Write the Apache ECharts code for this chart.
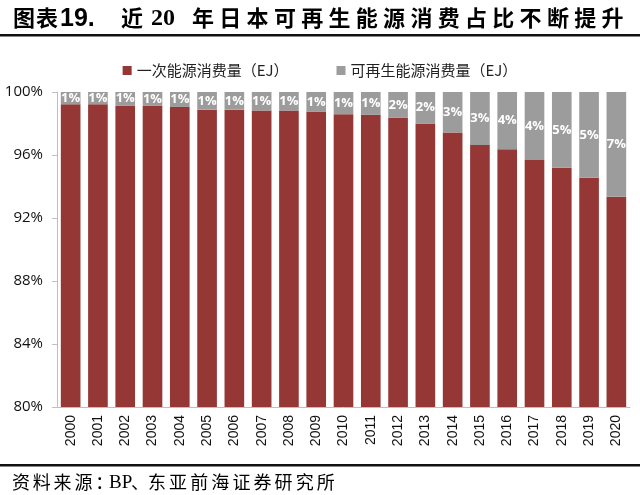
<!DOCTYPE html>
<html>
<head>
<meta charset="utf-8">
<script src="https://cdn.jsdelivr.net/npm/echarts@6/dist/echarts.min.js"></script>
<style>html,body{margin:0;padding:0;background:#fff;}#main{width:640px;height:495px;}</style>
</head>
<body>
<div id="main"></div>
<script>
var years = ['2000','2001','2002','2003','2004','2005','2006','2007','2008','2009','2010','2011','2012','2013','2014','2015','2016','2017','2018','2019','2020'];
var primaryShare = [99.22,99.22,99.15,99.12,99.05,98.88,98.88,98.82,98.82,98.74,98.59,98.55,98.36,98.00,97.43,96.63,96.37,95.68,95.19,94.55,93.35];
var renewableShare = [0.78,0.78,0.85,0.88,0.95,1.12,1.12,1.18,1.18,1.26,1.41,1.45,1.64,2.00,2.57,3.37,3.63,4.32,4.81,5.45,6.65];
var seriesNames = ['一次能源消费量（EJ）','可再生能源消费量（EJ）'];
var yTicks = {min: 80, max: 100, interval: 4};
var titleParts = ['图表', '19.', '近', '20', '年日本可再生能源消费占比不断提升'];
var sourceParts = ['资料来源：', 'BP', '、', '东亚前海证券研究所'];

// ---- text layout helpers (spaced title/footer like the original document) ----
var graphics = [];
function charRun(str, x0, pitch, y, font) {
  for (var i = 0; i < str.length; i++) {
    graphics.push({type: 'text', x: x0 + i * pitch, y: y,
      style: {text: str[i], font: font, fill: '#000', textVerticalAlign: 'middle'}});
  }
}
function token(str, x, y, font) {
  graphics.push({type: 'text', x: x, y: y, style: {text: str, font: font, fill: '#000', textVerticalAlign: 'middle'}});
}
var tFont = 'bold 22px "Noto Sans CJK SC", sans-serif';
charRun(titleParts[0], 13, 23, 18, tFont);
token(titleParts[1], 60, 19, 'bold 25px "Liberation Sans", Arial, sans-serif');
charRun(titleParts[2], 121, 27, 18, tFont);
token(titleParts[3], 151, 19, 'bold 24px "Liberation Serif", serif');
charRun(titleParts[4], 192, 27.3, 18, tFont);

var fFont = '18px "Noto Sans CJK SC", serif';
charRun(sourceParts[0], 12, 20.8, 482, fFont);
token(sourceParts[1], 109, 483, '19px "Liberation Serif", serif');
token(sourceParts[2], 131, 482, fFont);
charRun(sourceParts[3], 148, 21.1, 482, fFont);

graphics.push({type: 'rect', shape: {x: 0, y: 34, width: 640, height: 2.5}, style: {fill: '#111'}});
graphics.push({type: 'rect', shape: {x: 0, y: 464, width: 640, height: 2.5}, style: {fill: '#111'}});

var chart = echarts.init(document.getElementById('main'), null, {renderer: 'canvas'});
chart.setOption({
  backgroundColor: '#ffffff',
  animation: false,
  graphic: graphics,
  legend: {
    top: 58, left: 'center',
    itemWidth: 9, itemHeight: 9, itemGap: 48,
    icon: 'rect',
    textStyle: {fontSize: 15, color: '#222', fontFamily: '"Noto Sans CJK SC", sans-serif'},
    data: seriesNames
  },
  grid: {left: 57, right: 10, top: 92, bottom: 88},
  xAxis: {
    type: 'category', data: years,
    axisLine: {lineStyle: {color: '#bfbfbf'}},
    axisTick: {show: false},
    axisLabel: {rotate: 90, fontSize: 14, color: '#111', fontFamily: 'Liberation Sans, Arial, sans-serif', margin: 8}
  },
  yAxis: {
    type: 'value', min: yTicks.min, max: yTicks.max, interval: yTicks.interval,
    axisLine: {show: true, lineStyle: {color: '#bfbfbf'}},
    axisTick: {show: true, length: 5, lineStyle: {color: '#bfbfbf'}},
    splitLine: {show: false},
    axisLabel: {formatter: '{value}%', fontSize: 15, color: '#111', fontFamily: '"Open Sans", "DejaVu Sans", sans-serif', margin: 14}
  },
  series: [
    {name: seriesNames[0], type: 'bar', stack: 'a', data: primaryShare, barCategoryGap: '28%',
      itemStyle: {color: '#953735'}},
    {name: seriesNames[1], type: 'bar', stack: 'a', data: renewableShare,
      itemStyle: {color: '#9c9c9c'},
      label: {show: true, position: 'inside', color: '#fff', fontWeight: 'bold', fontSize: 13,
        fontFamily: '"Open Sans", sans-serif',
        formatter: function (p) { return Math.round(p.value) + '%'; }}}
  ]
});
</script>
</body>
</html>
